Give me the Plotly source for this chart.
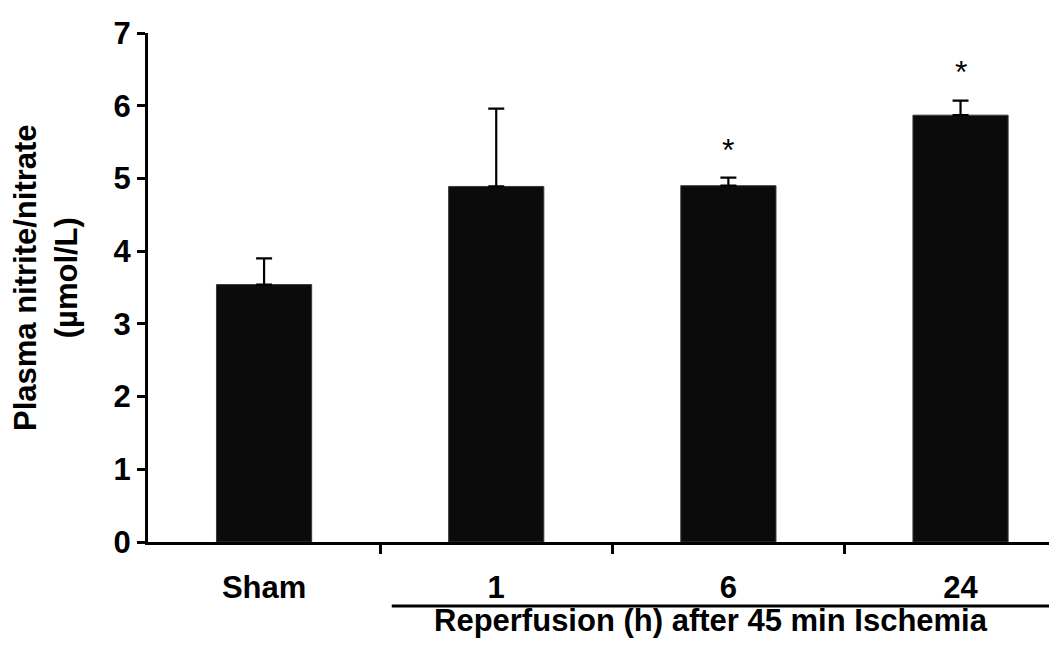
import plotly.graph_objects as go

categories = ["Sham", "1", "6", "24"]
means = [3.54, 4.89, 4.90, 5.87]
sem = [0.36, 1.07, 0.11, 0.20]
star_groups = ["6", "24"]
star_y = [5.39, 6.46]
y_ticks = [0, 1, 2, 3, 4, 5, 6, 7]

FONT = "Liberation Sans, Arial, sans-serif"
pos = list(range(len(categories)))

fig = go.Figure()
fig.add_trace(go.Bar(
    x=pos, y=means, width=0.41,
    marker=dict(color="#0b0b0b", line=dict(color="#3a3a3a", width=1)),
    error_y=dict(type="data", array=sem, arrayminus=[0] * len(sem), symmetric=False,
                 color="black", thickness=2.2, width=8),
    showlegend=False,
))

for g, yv in zip(star_groups, star_y):
    fig.add_annotation(x=categories.index(g), y=yv, xref="x", yref="y", text="*",
                       showarrow=False, font=dict(family=FONT, size=32, color="black"),
                       yanchor="middle")

fig.add_shape(type="line", xref="x", yref="paper", x0=0.55, x1=3.5,
              y0=-0.1257, y1=-0.1257, line=dict(color="black", width=3))
fig.add_annotation(xref="paper", yref="paper", x=0.614, y=-0.155,
                   text="<b>Reperfusion (h) after 45 min Ischemia</b>", showarrow=False,
                   font=dict(family=FONT, size=31, color="black"),
                   xanchor="center", yanchor="middle")
fig.add_annotation(xref="paper", yref="paper", x=-0.111, y=0.519,
                   text="<b>Plasma nitrite/nitrate<br>(µmol/L)</b>", showarrow=False,
                   textangle=-90, font=dict(family=FONT, size=31, color="black"),
                   xanchor="center", yanchor="middle")

fig.update_layout(
    width=1057, height=645,
    margin=dict(l=140, r=0, t=25, b=111, autoexpand=False),
    plot_bgcolor="white", paper_bgcolor="white",
    font=dict(family=FONT, color="black"),
    xaxis=dict(
        range=[-0.5, 3.45], tickmode="array", tickvals=pos,
        ticktext=["<b>%s</b>" % c for c in categories],
        ticks="", showline=True, linecolor="black", linewidth=3,
        tickfont=dict(family=FONT, size=31, color="black"),
        ticklabelstandoff=16, showgrid=False, zeroline=False, automargin=False,
        minor=dict(tickmode="array", tickvals=[0.5, 1.5, 2.5], ticks="outside",
                   ticklen=9, tickwidth=3, tickcolor="black", showgrid=False),
    ),
    yaxis=dict(
        range=[0, 7], tickmode="array", tickvals=y_ticks,
        ticktext=["<b>%d</b>" % v for v in y_ticks],
        ticks="outside", ticklen=8, tickwidth=3, tickcolor="black",
        showline=True, linecolor="black", linewidth=3,
        tickfont=dict(family=FONT, size=31, color="black"),
        ticklabelstandoff=0,
        showgrid=False, zeroline=False, automargin=False,
    ),
)

fig.write_html("out.html")
